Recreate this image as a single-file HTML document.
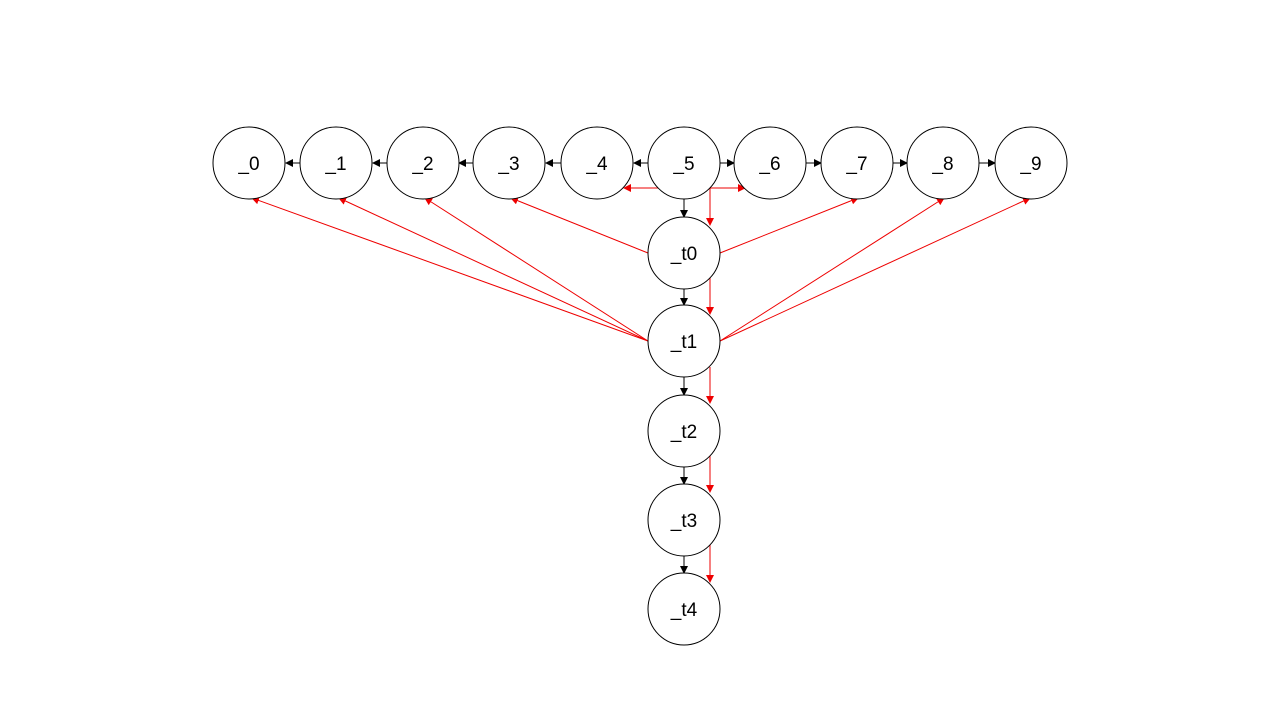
<!DOCTYPE html>
<html><head><style>body{margin:0;background:#fff}svg{display:block}</style></head><body>
<svg width="1280" height="720" viewBox="0 0 1280 720" xmlns="http://www.w3.org/2000/svg">
<defs>
<marker id="ab" markerWidth="8" markerHeight="8" refX="7" refY="4" orient="auto" markerUnits="userSpaceOnUse"><path d="M0,0 L8,4 L0,8z" fill="#000"/></marker>
<marker id="ar" markerWidth="8" markerHeight="8" refX="7" refY="4" orient="auto" markerUnits="userSpaceOnUse"><path d="M0,0 L8,4 L0,8z" fill="#e00"/></marker>
</defs>
<g stroke="#000" stroke-width="1" marker-end="url(#ab)">
<line x1="300" y1="163" x2="286" y2="163"/>
<line x1="387" y1="163" x2="373" y2="163"/>
<line x1="473" y1="163" x2="459" y2="163"/>
<line x1="561" y1="163" x2="546" y2="163"/>
<line x1="648" y1="163" x2="634" y2="163"/>
<line x1="720" y1="163" x2="734" y2="163"/>
<line x1="806" y1="163" x2="821" y2="163"/>
<line x1="893" y1="163" x2="907" y2="163"/>
<line x1="979" y1="163" x2="995" y2="163"/>
<line x1="684" y1="199" x2="684" y2="217"/>
<line x1="684" y1="289" x2="684" y2="305"/>
<line x1="684" y1="377" x2="684" y2="395"/>
<line x1="684" y1="467" x2="684" y2="484"/>
<line x1="684" y1="556" x2="684" y2="573"/>
</g>
<g stroke="#e00" stroke-width="1" fill="none" marker-end="url(#ar)">
<polyline points="658,188 624,188"/>
<polyline points="710,188 745,188"/>
<polyline points="710,188 710,225"/>
<polyline points="710,278 710,314"/>
<polyline points="710,367 710,403"/>
<polyline points="710,456 710,492"/>
<polyline points="710,545 710,582"/>
<line x1="648" y1="253" x2="511" y2="198"/>
<line x1="720" y1="253" x2="858" y2="198"/>
<line x1="648" y1="341" x2="252" y2="198"/>
<line x1="648" y1="341" x2="339" y2="198"/>
<line x1="648" y1="341" x2="425" y2="198"/>
<line x1="720" y1="341" x2="944" y2="198"/>
<line x1="720" y1="341" x2="1030" y2="198"/>
</g>
<g fill="#fff" stroke="#000" stroke-width="1">
<circle cx="249" cy="163" r="36"/><circle cx="336" cy="163" r="36"/><circle cx="423" cy="163" r="36"/><circle cx="509" cy="163" r="36"/><circle cx="597" cy="163" r="36"/><circle cx="684" cy="163" r="36"/><circle cx="770" cy="163" r="36"/><circle cx="857" cy="163" r="36"/><circle cx="943" cy="163" r="36"/><circle cx="1031" cy="163" r="36"/>
<circle cx="684" cy="253" r="36"/><circle cx="684" cy="341" r="36"/><circle cx="684" cy="431" r="36"/><circle cx="684" cy="520" r="36"/><circle cx="684" cy="609" r="36"/>
</g>
<g font-family="Liberation Sans, sans-serif" font-size="19" text-anchor="middle" fill="#000">
<text x="249" y="170">_0</text><text x="336" y="170">_1</text><text x="423" y="170">_2</text><text x="509" y="170">_3</text><text x="597" y="170">_4</text><text x="684" y="170">_5</text><text x="770" y="170">_6</text><text x="857" y="170">_7</text><text x="943" y="170">_8</text><text x="1031" y="170">_9</text>
<text x="684" y="260">_t0</text><text x="684" y="348">_t1</text><text x="684" y="438">_t2</text><text x="684" y="527">_t3</text><text x="684" y="616">_t4</text>
</g>
</svg>
</body></html>
